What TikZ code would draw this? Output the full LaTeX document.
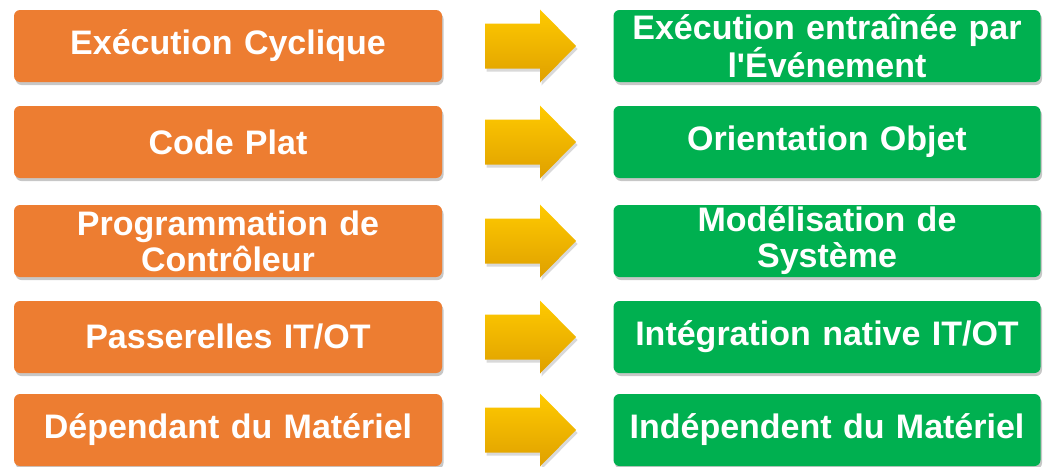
\documentclass[tikz,border=0pt]{standalone}
\usepackage{fontspec}
\setmainfont{Liberation Sans}[Ligatures=TeXOff]
\usetikzlibrary{shadows}
\definecolor{boxorange}{HTML}{ED7D31}
\definecolor{boxgreen}{HTML}{00B050}
\definecolor{arrtop}{HTML}{FFCA00}
\definecolor{arrbot}{HTML}{DFA000}
\tikzset{
  basebox/.style={rounded corners=6pt, minimum height=72pt, inner sep=2pt,
    text=white, align=center,
    font=\fontsize{34}{36}\selectfont\bfseries,
    drop shadow={shadow xshift=1.5pt, shadow yshift=-3pt, opacity=0.22, fill=black}},
  obox/.style={basebox, fill=boxorange, minimum width=428pt, text width=420pt},
  gbox/.style={basebox, fill=boxgreen, minimum width=427pt, text width=420pt},
  arrowfill/.style={top color=arrtop, bottom color=arrbot, draw=none},
  arrowshadow/.style={fill=black, opacity=0.15}
}
\newcommand{\bigarrowpath}[1]{%
  (485,#1-22.5) -- (540,#1-22.5) -- (540,#1-36.5) -- (576,#1) -- (540,#1+36.5) -- (540,#1+22.5) -- (485,#1+22.5) -- cycle}
\begin{document}
\begin{tikzpicture}[x=1pt,y=-1pt]
\useasboundingbox (0,0) rectangle (1049,466);
\node[obox] (o1) at (228,46) {Exécution Cyclique};
\node[obox] (o2) at (228,142) {Code Plat};
\node[obox] (o3) at (228,241) {Programmation de\\Contrôleur};
\node[obox] (o4) at (228,337) {Passerelles IT/OT};
\node[obox] (o5) at (228,430) {Dépendant du Matériel};
\node[gbox] (g1) at (827,46) {Exécution entraînée par\\l'Événement};
\node[gbox] (g2) at (827,142) {Orientation Objet};
\node[gbox] (g3) at (827,241) {Modélisation de\\Système};
\node[gbox] (g4) at (827,337) {Intégration native IT/OT};
\node[gbox] (g5) at (827,430) {Indépendent du Matériel};
\foreach \yy in {46,142,241,337,430}{
  \fill[arrowshadow, xshift=1.5pt, yshift=-3pt] \bigarrowpath{\yy};
  \shade[arrowfill] \bigarrowpath{\yy};
}
\end{tikzpicture}
\end{document}
